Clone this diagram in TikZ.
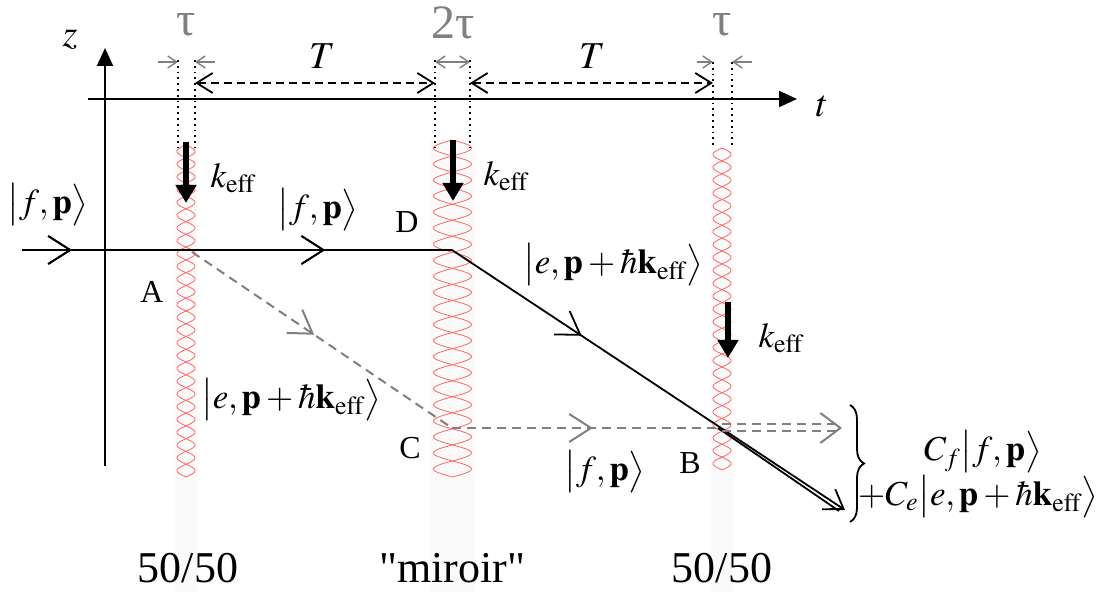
\documentclass[tikz,border=0pt]{standalone}
\usepackage{mathptmx}
\usepackage{fontspec}
\setmainfont{Liberation Serif}
\usepackage{tikz}
\usetikzlibrary{arrows.meta,decorations.markings,decorations.pathreplacing}
\definecolor{ink}{HTML}{000000}
\definecolor{mute}{HTML}{808080}
\definecolor{laser}{HTML}{FF6666}
\definecolor{band}{HTML}{FAFAFA}
\newcommand{\ketf}{\bigl|f,\mathbf{p}\bigr\rangle}
\newcommand{\kete}{\bigl|e,\mathbf{p}+\hbar\mathbf{k}_{\mathrm{eff}}\bigr\rangle}
\newcommand{\keff}{$k_{\mathrm{eff}}$}
% centre, half width, top, bottom, number of lobes
\newcommand{\laserpulse}[5]{%
  \fill[band] (#1-1.2*#2,#3) rectangle (#1+1.2*#2,592);
  \draw[pulse] plot[domain=#3:#4,samples=500] ({#1+#2*sin((\x-#3)/(#4-#3)*#5*180)},\x);
  \draw[pulse] plot[domain=#3:#4,samples=500] ({#1-#2*sin((\x-#3)/(#4-#3)*#5*180)},\x);}

\begin{document}
\begin{tikzpicture}[
  x=0.5pt,y=-0.5pt,
  axis/.style={line width=1.1pt,draw=ink,-{Triangle[length=9pt,width=8pt]}},
  pulse/.style={draw=laser,line width=0.4pt},
  guide/.style={draw=ink,line width=0.9pt,dotted},
  tick/.style={draw=mute,line width=0.7pt,-{Straight Barb[length=4.5pt,width=6pt]}},
  period/.style={draw=ink,line width=0.9pt,dash pattern=on 4pt off 2.5pt,{Straight Barb[length=8pt,width=10pt]}-{Straight Barb[length=8pt,width=10pt]}},
  kvec/.style={draw=ink,line width=3pt,-{Triangle[length=9pt,width=10pt]}},
  beam/.style={draw=ink,line width=0.9pt},
  ghost/.style={draw=mute,line width=1pt,dash pattern=on 4.5pt off 3pt},
  midarr/.style={postaction={decorate},decoration={markings,mark=at position #1 with {\arrow[solid]{Straight Barb[length=11pt,width=14pt]}}}},
  lbl/.style={inner sep=0pt,font=\fontsize{16}{18}\selectfont},
  ket/.style={inner sep=0pt,font=\fontsize{17.5}{20}\selectfont},
  dur/.style={inner sep=0pt,text=mute,font=\fontsize{24}{26}\selectfont},
  split/.style={inner sep=0pt,font=\fontsize{22}{24}\selectfont}
]
\useasboundingbox (0,0) rectangle (1098,592);
\fill[white] (0,0) rectangle (1098,592);

% pulses
\laserpulse{186}{9}{145}{477}{26}
\laserpulse{452.5}{19}{140}{477}{21}
\laserpulse{722}{9}{148}{470}{25}

% axes
\coordinate (zbot) at (105,466);
\coordinate (ztop) at (105,48);
\coordinate (tleft) at (88,99);
\coordinate (tright) at (797,99);
\draw[axis] (zbot) -- (ztop);
\draw[axis] (tleft) -- (tright);
\node[lbl,font=\fontsize{19}{20}\selectfont] (zlab) at (70,40) {$z$};
\node[lbl,font=\fontsize{19}{20}\selectfont] (tlab) at (822,106) {$t$};

% pulse edges and durations
\foreach \xa/\ya in {178/60,195/60,435/60,470/60,713/62,732/62}
  \draw[guide] (\xa,\ya) -- (\xa,148);
\coordinate (p1l) at (178,62);
\coordinate (p1r) at (195,62);
\coordinate (p2l) at (435,62);
\coordinate (p2r) at (470,62);
\coordinate (p3l) at (713,62);
\coordinate (p3r) at (732,62);
\draw[tick] ([xshift=-10pt]p1l) -- (p1l);
\draw[tick] ([xshift=10pt]p1r) -- (p1r);
\draw[tick,{Straight Barb[length=4.5pt,width=6pt]}-{Straight Barb[length=4.5pt,width=6pt]}] (p2l) -- (p2r);
\draw[tick] ([xshift=-8pt]p3l) -- (p3l);
\draw[tick] ([xshift=10pt]p3r) -- (p3r);
\node[dur] (tau1) at (186,25) {τ};
\node[dur] (tau2) at (453,23) {2τ};
\node[dur] (tau3) at (722,25) {τ};

\coordinate (T1a) at (195,83);
\coordinate (T1b) at (435,83);
\coordinate (T2a) at (470,83);
\coordinate (T2b) at (713,83);
\draw[period] (T1a) -- (T1b);
\draw[period] (T2a) -- (T2b);
\node[lbl,font=\fontsize{19}{20}\selectfont] (Tlab1) at (322,56) {$T$};
\node[lbl,font=\fontsize{19}{20}\selectfont] (Tlab2) at (592,56) {$T$};

% effective wave vectors
\draw[kvec] (186,142) -- (186,203);
\draw[kvec] (453,140) -- (453,201);
\draw[kvec] (728,302) -- (728,358);
\node[ket] (k1) at (233,178) {\keff};
\node[ket] (k2) at (506,176) {\keff};
\node[ket] (k3) at (781,338) {\keff};

% trajectories
\coordinate (start) at (22,250);
\coordinate (A) at (192,252);
\coordinate (D) at (452,250);
\coordinate (C) at (452,428);
\coordinate (B) at (718,428);
\coordinate (Bup) at (722,424.5);
\coordinate (Bdn) at (722,431.5);
\coordinate (E) at (845,510);
\coordinate (Eb) at (839,511);
\coordinate (Fup) at (836,424.5);
\coordinate (Fdn) at (836,431.5);
\coordinate (F) at (842,428);
\draw[beam,midarr=0.116,midarr=0.705] (start) -- (D);
\draw[beam,midarr=0.33,-{Straight Barb[length=9pt,width=12pt]}] (D) -- (E);
\draw[beam] (B) -- (Eb);
\draw[ghost,midarr=0.47] (A) -- (C);
\draw[ghost,midarr=0.53] (C) -- (B);
\draw[ghost] (Bup) -- (Fup);
\draw[ghost] (Bdn) -- (Fdn);
\draw[draw=mute,line width=1pt,-{Straight Barb[length=10pt,width=15pt]}] ([xshift=-2pt]F) -- (F);

% labels
\node[ket] (in) at (48,205) {$\ketf$};
\node[ket] (fD) at (318,210) {$\ketf$};
\node[lbl] (Dl) at (407,222) {D};
\node[lbl] (Al) at (152,292) {A};
\node[ket] (eA) at (291,400) {$\kete$};
\node[lbl] (Cl) at (410,448) {C};
\node[ket] (eD) at (613,265) {$\kete$};
\node[ket] (fC) at (605,472) {$\ketf$};
\node[lbl] (Bl) at (690,463) {B};

% output state
\coordinate (brtop) at (850,405);
\coordinate (brbot) at (850,522);
\draw[beam,decorate,decoration={brace,amplitude=7pt}] (brtop) -- (brbot);
\node[ket] (outf) at (983,452) {$C_f\ketf$};
\node[ket] (oute) at (978,497) {$+C_e\kete$};

% beam splitters
\node[split] (bs1) at (188,568) {50/50};
\node[split] (mir) at (452,568) {\textquotedbl miroir\textquotedbl};
\node[split] (bs2) at (722,568) {50/50};
\end{tikzpicture}
\end{document}
